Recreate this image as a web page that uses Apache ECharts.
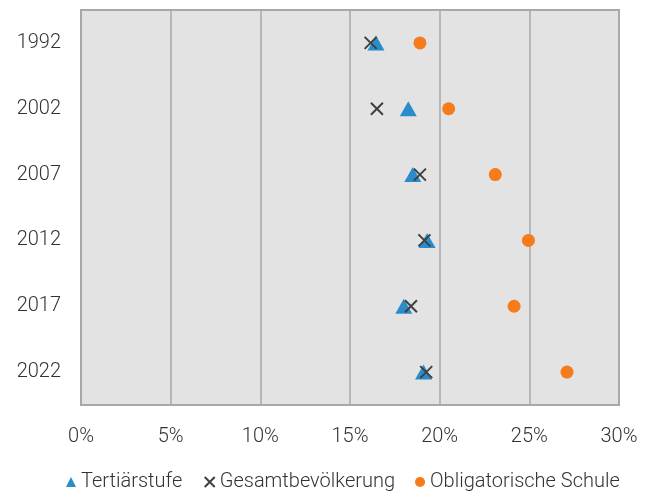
<!DOCTYPE html>
<html><head><meta charset="utf-8">
<script src="https://cdn.jsdelivr.net/npm/echarts@6/dist/echarts.min.js"></script>
<style>html,body{margin:0;padding:0;background:#fff}#c{width:653px;height:492px}</style>
</head><body><div id="c"></div>
<script>
const years = ['1992','2002','2007','2012','2017','2022'];
const tertiaer = [16.45, 18.25, 18.5, 19.3, 18.0, 19.1];
const gesamt = [16.15, 16.5, 18.9, 19.15, 18.4, 19.25];
const obligatorisch = [18.9, 20.5, 23.1, 24.95, 24.15, 27.1];
const xTicks = [0, 5, 10, 15, 20, 25, 30];

const crossPath = 'path://M0,0L10,10M10,0L0,10';
const font = 'Roboto';
const chart = echarts.init(document.getElementById('c'), null, {renderer:'canvas'});
chart.setOption({
  animation:false,
  textStyle:{fontFamily:font},
  grid:{left:81,right:34,top:10,bottom:87,show:true,backgroundColor:'#e3e3e3',borderColor:'#a8a8a8',borderWidth:2},
  xAxis:{type:'value',min:xTicks[0],max:xTicks[xTicks.length-1],interval:5,
    axisLine:{show:false},axisTick:{show:false},
    splitLine:{show:true,lineStyle:{color:'#a8a8a8',width:1.5}},
    axisLabel:{margin:22,fontSize:20,fontWeight:300,color:'#333',fontFamily:font,formatter:v=>v+'%'}},
  yAxis:{type:'category',data:years,inverse:true,
    axisLine:{show:false},axisTick:{show:false},splitLine:{show:false},
    axisLabel:{margin:20,fontSize:20,fontWeight:300,color:'#333',fontFamily:font}},
  legend:{top:467,left:61,itemGap:20,itemWidth:10,itemHeight:10,
    textStyle:{fontSize:20,fontWeight:300,color:'#333',fontFamily:font},
    data:[
      {name:'Tertiärstufe',icon:'triangle',itemStyle:{color:'#2b8ccc'}},
      {name:'Gesamtbevölkerung',icon:crossPath,itemStyle:{color:'none',borderColor:'#404040',borderWidth:2}},
      {name:'Obligatorische Schule',icon:'circle',itemStyle:{color:'#f57b1b'}}
    ]},
  series:[
    {name:'Tertiärstufe',type:'scatter',symbol:'triangle',symbolSize:[17,15],
      itemStyle:{color:'#2b8ccc',opacity:1},data:tertiaer,z:2},
    {name:'Gesamtbevölkerung',type:'scatter',symbol:crossPath,symbolSize:12,
      itemStyle:{color:'none',borderColor:'#404040',borderWidth:2,opacity:1},data:gesamt,z:3},
    {name:'Obligatorische Schule',type:'scatter',symbol:'circle',symbolSize:13,
      itemStyle:{color:'#f57b1b',opacity:1},data:obligatorisch,z:4}
  ]
});
</script></body></html>
